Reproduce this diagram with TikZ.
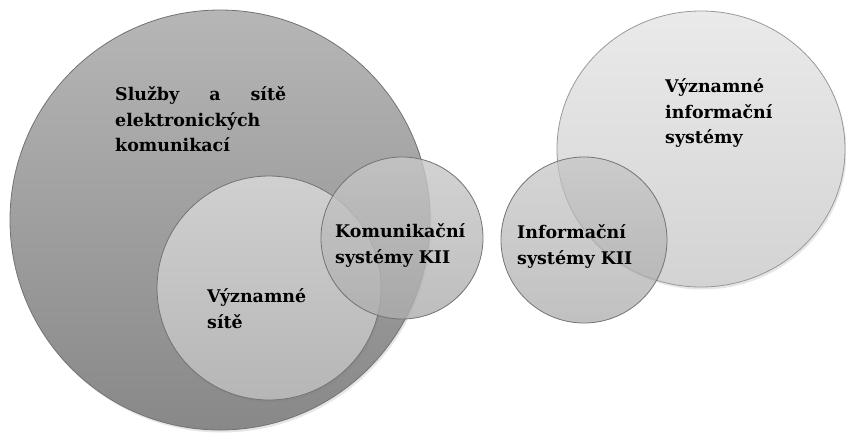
\documentclass[tikz,border=0pt]{standalone}
\usepackage{fontspec}
\setmainfont{DejaVu Serif}
\usepackage{tikz}
\usetikzlibrary{shapes.geometric, shadows}

\definecolor{bigtop}{HTML}{B6B6B6}
\definecolor{bigbot}{HTML}{888888}
\definecolor{sittop}{HTML}{D0D0D0}
\definecolor{sitbot}{HTML}{B6B6B6}
\definecolor{komtop}{HTML}{C8C8C8}
\definecolor{kombot}{HTML}{ADADAD}
\definecolor{vistop}{HTML}{EAEAEA}
\definecolor{visbot}{HTML}{D3D3D3}
\definecolor{infotop}{HTML}{C4C4C4}
\definecolor{infobot}{HTML}{A6A6A6}

\begin{document}
\begin{tikzpicture}[x=1bp, y=-1bp,
  disc/.style={circle, draw=black!55, line width=0.8bp, inner sep=0pt},
  shad/.style={drop shadow={opacity=0.2, shadow xshift=1.5bp, shadow yshift=-2.5bp}},
  lbl/.style={anchor=north west, inner sep=0pt, align=left,
    font={\fontsize{17.5}{26}\selectfont\bfseries}}]
  \useasboundingbox (0,0) rectangle (846,432);

  % electronic communications (large, dark)
  \node[disc, shad, minimum size=420bp, top color=bigtop, bottom color=bigbot] (sluzby) at (220,220) {};
  % significant networks
  \node[disc, shad, minimum size=224bp, top color=sittop, bottom color=sitbot] (site) at (269,288) {};
  % communication systems (see-through)
  \node[disc, minimum size=162bp, top color=komtop, bottom color=kombot, fill opacity=0.8] (komsys) at (402,238) {};

  % significant information systems (light)
  \node[ellipse, draw=black!40, line width=0.8bp, inner sep=0pt, shad, minimum width=288bp, minimum height=276bp,
    top color=vistop, bottom color=visbot] (vis) at (701,149) {};
  % information systems (see-through)
  \node[disc, minimum size=166bp, top color=infotop, bottom color=infobot, fill opacity=0.7] (infsys) at (584,240) {};

  % labels
  \node[lbl, text width=171bp] (sluzbytxt) at (115,86) {Služby\hfill a\hfill sítě\\elektronických\\komunikací};
  \node[lbl] (sitetxt) at (207,288) {Významné\\sítě};
  \node[lbl] (komsystxt) at (335,223) {Komunikační\\systémy KII};
  \node[lbl] (infsystxt) at (517,224) {Informační\\systémy KII};
  \node[lbl] (vistxt) at (665,78) {Významné\\informační\\systémy};
\end{tikzpicture}
\end{document}
